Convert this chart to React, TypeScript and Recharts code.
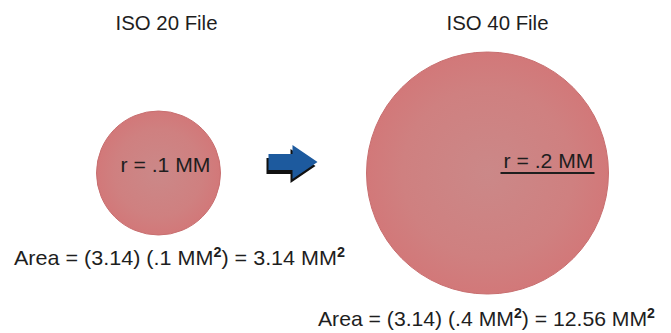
import { Scatter, ScatterChart, XAxis, YAxis, ZAxis } from "recharts";

// one entry per drill file
const files = ["ISO 20 File", "ISO 40 File"];
const radiusMM = [0.1, 0.2];
const radiusText = ["r = .1 MM", "r = .2 MM"];
const squaredText = [".1", ".4"];
const areaText = ["3.14", "12.56"];
const PI_TEXT = "3.14";

const data = files.map((name, i) => ({
  name,
  idx: i,
  level: 0,
  r: radiusMM[i],
  radiusLabel: radiusText[i],
  squared: squaredText[i],
  area: areaText[i],
}));

// text placement around each disc (relative to the disc centre)
const placement = [
  { titleDx: 8, rx: -38, rDy: -1, rLen: 90, underline: false, areaX: 14, areaLen: 331, areaGap: 30 },
  { titleDx: 10, rx: 16, rDy: -5, rLen: 90, underline: true, areaX: 318, areaLen: 337, areaGap: 32 },
];

const FONT = "'Liberation Sans', Arial, sans-serif";
const INK = "#1e1e1e";

function Arrow({ x, y }: { x: number; y: number }) {
  const pts = (dx: number, dy: number) =>
    [
      [0, -8], [24, -8], [24, -17], [49, 0], [24, 17], [24, 8], [0, 8],
    ]
      .map(([px, py]) => `${x + px + dx},${y + py + dy}`)
      .join(" ");
  return (
    <g>
      <polygon points={pts(-2, 4)} fill="#111" />
      <polygon points={pts(0, 0)} fill="#1d5a9e" />
    </g>
  );
}

function Disc(props: any) {
  const { cx, cy, size, payload } = props;
  const r = Math.sqrt(size / Math.PI);
  const p = placement[payload.idx];
  return (
    <g fontFamily={FONT} fill={INK}>
      <circle cx={cx} cy={cy} r={r} fill="url(#discFill)" stroke="#c86f70" strokeWidth={1} />
      <text x={cx + p.titleDx} y={30} textAnchor="middle" fontSize={20.5} textLength={102} lengthAdjust="spacingAndGlyphs">
        {payload.name}
      </text>
      <text x={cx + p.rx} y={cy + p.rDy} fontSize={21} textLength={p.rLen} lengthAdjust="spacingAndGlyphs">
        {payload.radiusLabel}
      </text>
      {p.underline && (
        <line x1={cx + p.rx - 3} x2={cx + p.rx + p.rLen + 1} y1={cy + p.rDy + 5} y2={cy + p.rDy + 5} stroke={INK} strokeWidth={2} />
      )}
      <text x={p.areaX} y={cy + r + p.areaGap} fontSize={21} textLength={p.areaLen} lengthAdjust="spacingAndGlyphs">
        {`Area = (${PI_TEXT}) (${payload.squared} MM`}
        <tspan fontSize={14} fontWeight="bold" dy={-8}>2</tspan>
        <tspan dy={8}>{`) = ${payload.area} MM`}</tspan>
        <tspan fontSize={14} fontWeight="bold" dy={-8}>2</tspan>
      </text>
      {payload.idx === 0 && <Arrow x={cx + r + 48} y={cy - 11} />}
    </g>
  );
}

export default function App() {
  return (
    <div style={{ position: "absolute", left: 0, top: 0, background: "#fff" }}>
      <ScatterChart width={671} height={333} margin={{ top: 13, right: 19, bottom: 0, left: -6 }}>
        <defs>
          <radialGradient id="discFill" cx="50%" cy="50%" r="50%">
            <stop offset="0%" stopColor="#cb8888" />
            <stop offset="70%" stopColor="#cf8080" />
            <stop offset="100%" stopColor="#d27879" />
          </radialGradient>
        </defs>
        <XAxis dataKey="name" type="category" hide />
        <YAxis dataKey="level" type="number" domain={[-1, 1]} hide />
        <ZAxis dataKey="r" type="number" domain={[0.1, 0.2]} range={[Math.PI * 62 * 62, Math.PI * 121 * 121]} />
        <Scatter data={data} shape={Disc} isAnimationActive={false} />
      </ScatterChart>
    </div>
  );
}
